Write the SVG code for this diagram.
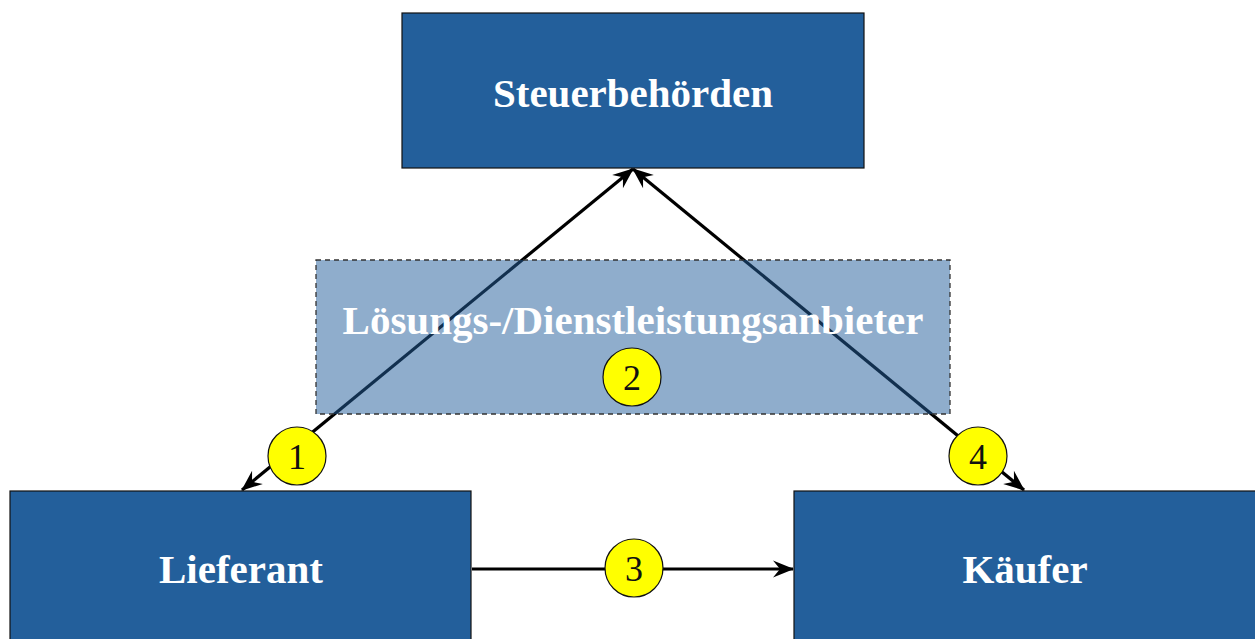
<svg xmlns="http://www.w3.org/2000/svg" width="1255" height="639" viewBox="0 0 1255 639">
  <style>
    .node rect { fill: #235f9b; stroke: #111; stroke-width: 1.2; }
    .label { font-family: "Liberation Serif", "Times New Roman", serif; font-weight: bold; fill: #ffffff; text-anchor: middle; font-size: 41px; }
    .badge circle { fill: #ffff00; stroke: #111; stroke-width: 1.2; }
    .badge text { font-family: "Liberation Serif", "Times New Roman", serif; font-size: 36px; fill: #111; text-anchor: middle; }
    .edge { stroke: #000; stroke-width: 3.2; fill: none; }
  </style>
  <defs>
    <marker id="stealth" viewBox="-22 -10 24 20" refX="0" refY="0" markerWidth="24" markerHeight="20" markerUnits="userSpaceOnUse" orient="auto-start-reverse">
      <path d="M1,0 L-20,-8.5 L-13,0 L-20,8.5 Z" fill="#000"/>
    </marker>
  </defs>

  <rect width="1255" height="639" fill="#ffffff"/>

  <!-- connectors -->
  <g id="connectors">
    <line class="edge" x1="242" y1="490" x2="633" y2="169" marker-start="url(#stealth)" marker-end="url(#stealth)"/>
    <line class="edge" x1="633" y1="169" x2="1024" y2="490" marker-start="url(#stealth)" marker-end="url(#stealth)"/>
    <line class="edge" x1="472" y1="569" x2="793" y2="569" marker-end="url(#stealth)"/>
  </g>

  <!-- translucent service-provider layer over the connectors -->
  <g id="provider">
    <rect x="316" y="260" width="634" height="154" fill="#235f9b" fill-opacity="0.51" stroke="#333" stroke-width="1.3" stroke-dasharray="5,4"/>
    <text class="label" x="633" y="334">Lösungs-/Dienstleistungsanbieter</text>
  </g>

  <g id="tax" class="node">
    <rect x="402" y="13" width="462" height="155"/>
    <text class="label" x="633" y="107">Steuerbehörden</text>
  </g>

  <g id="supplier" class="node">
    <rect x="10" y="491" width="461" height="160"/>
    <text class="label" x="241" y="583">Lieferant</text>
  </g>

  <g id="buyer" class="node">
    <rect x="794" y="491" width="470" height="160"/>
    <text class="label" x="1025" y="583">Käufer</text>
  </g>

  <!-- step badges -->
  <g id="step1" class="badge">
    <circle cx="297" cy="456" r="29"/>
    <text x="297" y="469">1</text>
  </g>
  <g id="step2" class="badge">
    <circle cx="632" cy="377" r="29"/>
    <text x="632" y="390">2</text>
  </g>
  <g id="step3" class="badge">
    <circle cx="634" cy="568" r="29"/>
    <text x="634" y="581">3</text>
  </g>
  <g id="step4" class="badge">
    <circle cx="978" cy="456" r="29"/>
    <text x="978" y="469">4</text>
  </g>
</svg>
